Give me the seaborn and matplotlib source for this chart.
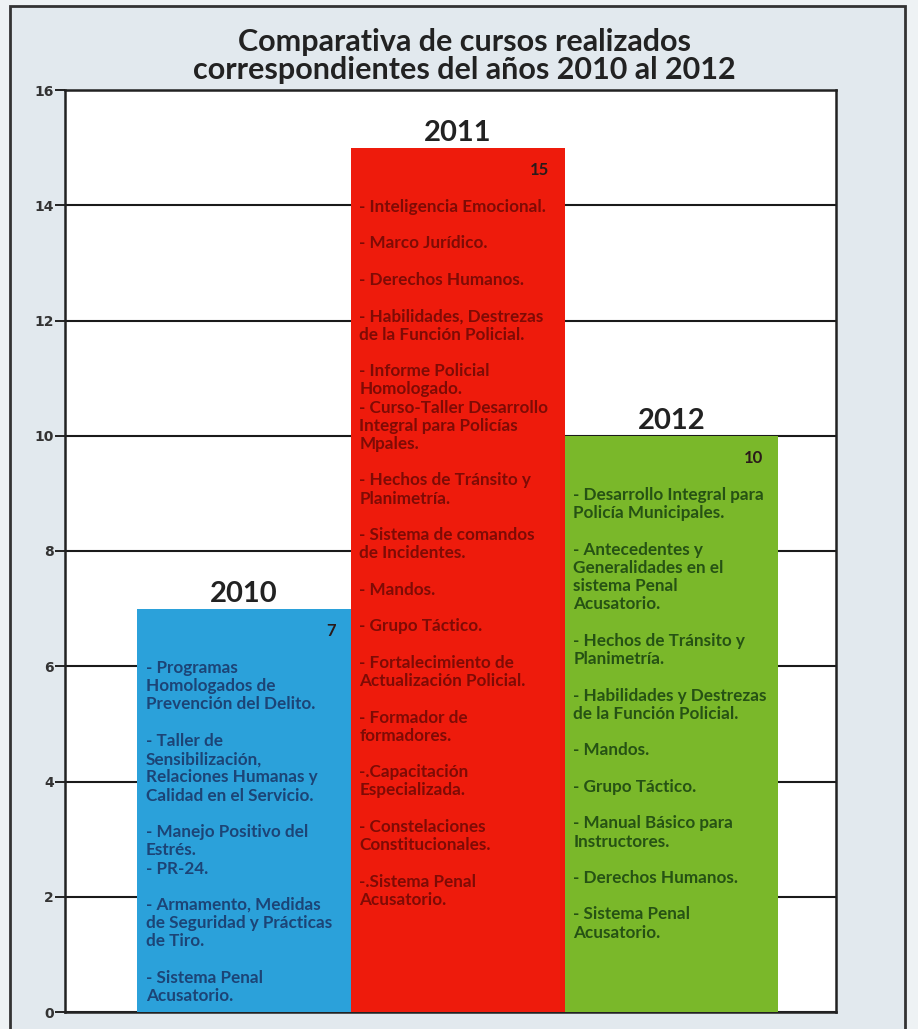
import pandas as pd
import matplotlib.pyplot as plt
import matplotlib.patches as mpatches
import seaborn as sns

sns.set_theme(style="white")
plt.rcParams['font.family'] = ['Lato', 'DejaVu Sans']

# data
years = ['2010', '2011', '2012']
cursos = [7, 15, 10]
colores = ['#2ba1da', '#ee1b0c', '#7ab82a']
texto_colores = ['#1c4476', '#7e0b05', '#265214']

items_2010 = [
    "- Programas\nHomologados de\nPrevención del Delito.",
    "- Taller de\nSensibilización,\nRelaciones Humanas y\nCalidad en el Servicio.",
    "- Manejo Positivo del\nEstrés.\n- PR-24.",
    "- Armamento, Medidas\nde Seguridad y Prácticas\nde Tiro.",
    "- Sistema Penal\nAcusatorio.",
]
items_2011 = [
    "- Inteligencia Emocional.",
    "- Marco Jurídico.",
    "- Derechos Humanos.",
    "- Habilidades, Destrezas\nde la Función Policial.",
    "- Informe Policial\nHomologado.\n- Curso-Taller Desarrollo\nIntegral para Policías\nMpales.",
    "- Hechos de Tránsito y\nPlanimetría.",
    "- Sistema de comandos\nde Incidentes.",
    "- Mandos.",
    "- Grupo Táctico.",
    "- Fortalecimiento de\nActualización Policial.",
    "- Formador de\nformadores.",
    "-.Capacitación\nEspecializada.",
    "- Constelaciones\nConstitucionales.",
    "-.Sistema Penal\nAcusatorio.",
]
items_2012 = [
    "- Desarrollo Integral para\nPolicía Municipales.",
    "- Antecedentes y\nGeneralidades en el\nsistema Penal\nAcusatorio.",
    "- Hechos de Tránsito y\nPlanimetría.",
    "- Habilidades y Destrezas\nde la Función Policial.",
    "- Mandos.",
    "- Grupo Táctico.",
    "- Manual Básico para\nInstructores.",
    "- Derechos Humanos.",
    "- Sistema Penal\nAcusatorio.",
]
listas = [items_2010, items_2011, items_2012]

df = pd.DataFrame({'year': years, 'cursos': cursos})

fig = plt.figure(figsize=(9.18, 10.29), dpi=100, facecolor='#eef2f4')
# marco del cuadro
fig.patches.append(mpatches.Rectangle((10/918, -0.01), 895/918, 1.0 - 6/1029 + 0.01,
                                      transform=fig.transFigure, facecolor='#e2e9ee',
                                      edgecolor='#333333', linewidth=2, zorder=-5))
ax = fig.add_axes([65/918, 17/1029, 771/918, 922/1029])
ax.set_zorder(2)
ax.set_facecolor('white')

sns.barplot(data=df, x='year', y='cursos', hue='year', palette=colores, saturation=1,
            width=1.0, legend=False, ax=ax, zorder=3, linewidth=0)

ax.set_xlim(-0.838, 2.77)
ax.set_ylim(0, 16)
ax.set_yticks(range(0, 17, 2))
ax.yaxis.grid(True, color='#1a1a1a', linewidth=1.5, zorder=0)
ax.set_axisbelow(True)
ax.set_xticks([])
ax.set_xlabel('')
ax.set_ylabel('')
for s in ax.spines.values():
    s.set_color('#222222')
    s.set_linewidth(1.8)
    s.set_visible(True)
ax.tick_params(axis='y', left=True, length=7, width=1.4, color='#222222', pad=1,
               labelsize=10, labelcolor='#333333')
for lab in ax.get_yticklabels():
    lab.set_fontweight('bold')
    lab.set_family('DejaVu Sans')

for i, (val, items) in enumerate(zip(cursos, listas)):
    # año sobre la barra
    ax.annotate(years[i], (i, val), xytext=(0, 1), textcoords='offset points',
                ha='center', va='bottom', fontsize=21, fontweight='bold', color='#222222')
    # valor
    ax.annotate(str(val), (i + 0.5, val), xytext=(-11, -16), textcoords='offset points',
                ha='right', va='center', fontsize=12, fontweight='bold', color='#2a1a1a')
    # lista de cursos
    ax.text(i - 0.46, val - 0.89, "\n\n".join(items), ha='left', va='top',
            fontsize=12.3, fontweight='bold', linespacing=1.172,
            color=texto_colores[i], zorder=5)

fig.text(0.506, 1 - 56/1029, "Comparativa de cursos realizados\ncorrespondientes del años 2010 al 2012",
         ha='center', va='center', fontsize=22, fontweight='bold', color='#222222',
         linespacing=1.0)

fig.savefig('out.png', dpi=100, facecolor=fig.get_facecolor())
